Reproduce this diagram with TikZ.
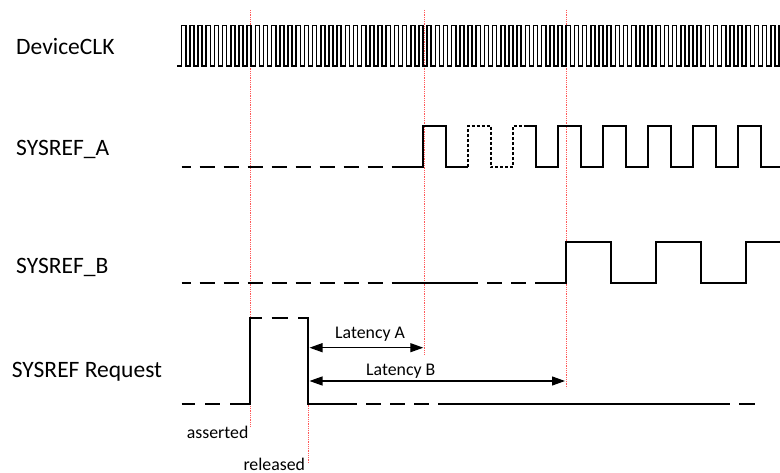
\documentclass[tikz,border=0pt]{standalone}
\usepackage{fontspec}
\setmainfont{Carlito}
\usetikzlibrary{arrows.meta}
\begin{document}
\begin{tikzpicture}[x=1pt,y=-1pt,
  sig/.style={line width=1.8pt, line join=miter},
  longdash/.style={sig, dash pattern=on 15pt off 9pt},
  finedash/.style={sig, dash pattern=on 3pt off 2pt},
  clk/.style={line width=1.5pt},
  marker/.style={draw=red!65, line width=1.2pt, dash pattern=on 1pt off 0.8pt},
  biglabel/.style={inner sep=0pt, anchor=base west, font=\fontsize{23.5}{28}\selectfont},
  smalllabel/.style={inner sep=0pt, anchor=base west, font=\fontsize{17.8}{21}\selectfont},
  latency/.style={line width=1.2pt, {Triangle[length=13pt,width=9pt]}-{Triangle[length=13pt,width=9pt]}}
]
\useasboundingbox (0,0) rectangle (780,473);
\fill[white] (0,0) rectangle (780,473);

% labels
\node[biglabel] (lclk) at (16,54.3) {DeviceCLK};
\node[biglabel] (la) at (16,156) {SYSREF\_A};
\node[biglabel] (lb) at (16,273.5) {SYSREF\_B};
\node[biglabel] (lr) at (11.7,377.7) {SYSREF Request};
\node[smalllabel] (asserted) at (186.7,438.3) {asserted};
\node[smalllabel] (released) at (243.3,470) {released};
\node[smalllabel] (latA) at (335,338.3) {Latency A};
\node[smalllabel] (latB) at (366,376) {Latency B};

% red marker lines
\coordinate (m1t) at (250.5,10);   \coordinate (m1b) at (250.5,426.7);
\coordinate (m2t) at (308.5,318.3); \coordinate (m2b) at (308.5,463);
\coordinate (m3t) at (424.5,10);   \coordinate (m3b) at (424.5,355);
\coordinate (m4t) at (566.5,10); \coordinate (m4b) at (566.5,388);
\draw[marker] (m1t) -- (m1b);
\draw[marker] (m2t) -- (m2b);
\draw[marker] (m3t) -- (m3b);
\draw[marker] (m4t) -- (m4b);

% DeviceCLK
\begin{scope}
\clip (170,0) rectangle (780,100);
\draw[clk] (177.3,66) foreach \k in {0,...,73} {
  -- ({181.7+8.1818*\k},66) -- ++(0,-40.3) -- ++(4.09,0) -- ++(0,40.3) } -- (790,66);
\end{scope}

% SYSREF_A
\draw[longdash, dash phase=6pt] (181.7,167.3) -- (400,167.3);
\draw[sig] (400,167.3) -- (423.3,167.3) -- (423.3,125.7) -- (445.8,125.7) -- (445.8,167.3) -- (468.3,167.3);
\draw[finedash] (468.3,167.3) -- (468.3,125.7) -- (490.8,125.7) -- (490.8,167.3) -- (513.3,167.3) -- (513.3,125.7) -- (525,125.7);
\draw[sig] (525,125.7) -- (535.8,125.7) -- (535.8,167.3)
  foreach \k in {0,...,4} { -- ({558.3+45*\k},167.3) -- ++(0,-41.6) -- ++(22.5,0) -- ++(0,41.6) } -- (780,167.3);

% SYSREF_B
\draw[longdash, dash phase=6pt] (181.7,282.7) -- (406.7,282.7);
\draw[sig] (406.7,282.7) -- (465,282.7);
\draw[longdash, dash phase=2pt] (465,282.7) -- (535,282.7);
\draw[sig] (535,282.7) -- (565.7,282.7) -- (565.7,241.7) -- (610.7,241.7) -- (610.7,282.7)
  -- (655.7,282.7) -- (655.7,241.7) -- (700.7,241.7) -- (700.7,282.7)
  -- (745.7,282.7) -- (745.7,241.7) -- (780,241.7);

% SYSREF Request
\draw[sig] (181.7,404.3) -- (195,404.3);
\draw[sig] (205,404.3) -- (220,404.3);
\draw[sig] (230,404.3) -- (250,404.3) -- (250,318.3) -- (261.7,318.3);
\draw[sig] (271.7,318.3) -- (288.3,318.3);
\draw[sig] (298.3,318.3) -- (307.7,318.3) -- (307.7,404.3) -- (357,404.3);
\draw[sig] (366,404.3) -- (381,404.3);
\draw[sig] (390,404.3) -- (405,404.3);
\draw[sig] (414,404.3) -- (429,404.3);
\draw[sig] (438,404.3) -- (730,404.3);
\draw[sig] (739.3,404.3) -- (755,404.3);

% latency arrows
\coordinate (aL) at (309.5,347.7); \coordinate (aR) at (423.3,347.7);
\coordinate (bL) at (309.5,381);   \coordinate (bR) at (565,381);
\draw[latency] (aL) -- (aR);
\draw[latency] (bL) -- (bR);
\end{tikzpicture}
\end{document}
